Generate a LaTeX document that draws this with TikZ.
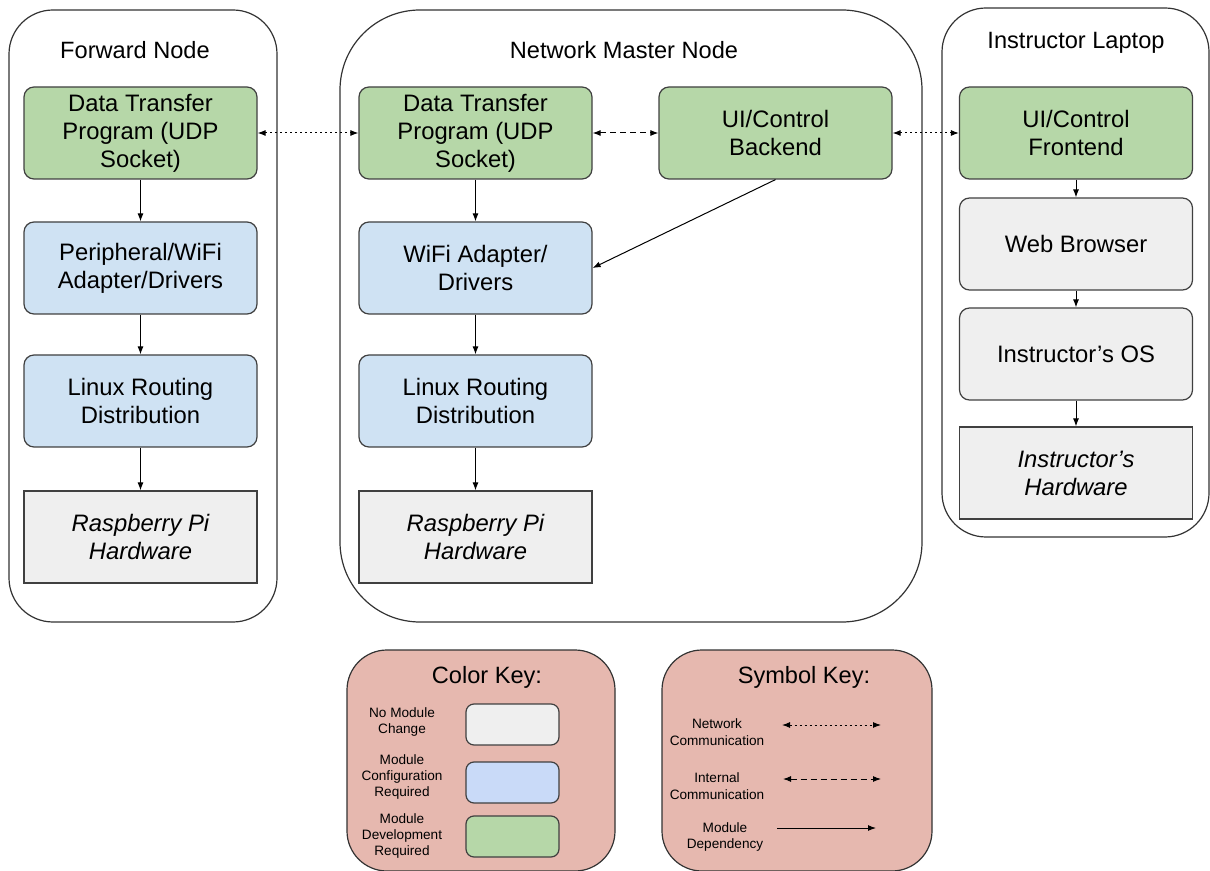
\documentclass[tikz,border=0pt]{standalone}
\usepackage{fontspec}
\setmainfont{Liberation Sans}
\usetikzlibrary{arrows.meta}
\definecolor{devgreen}{HTML}{B6D7A8}
\definecolor{cfgblue}{HTML}{CFE2F3}
\definecolor{keyblue}{HTML}{C9DAF8}
\definecolor{keepgrey}{HTML}{EFEFEF}
\definecolor{keypink}{HTML}{E6B8AF}
\tikzstyle{module} = [
  draw=black!75,
  line width=0.6pt,
  rounded corners=5pt,
  minimum width=116.5pt,
  minimum height=46pt,
  align=center,
  font=\fontsize{11.9}{14}\selectfont,
]
\tikzstyle{develop} = [module, fill=devgreen]
\tikzstyle{config} = [module, fill=cfgblue]
\tikzstyle{nochange} = [module, fill=keepgrey]
\tikzstyle{hardware} = [nochange, rounded corners=0pt, font=\fontsize{11.9}{14}\selectfont\itshape]
\tikzstyle{host} = [draw=black!80, line width=0.6pt]
\tikzstyle{title} = [font=\fontsize{11.8}{14}\selectfont]
\tikzstyle{keytext} = [align=center, font=\fontsize{6.8}{8.2}\selectfont]
\tikzstyle{swatch} = [draw=black!75, line width=0.6pt, rounded corners=4pt, minimum width=46.5pt, minimum height=20.5pt]
\tikzstyle{dep} = [-{Latex[length=4pt,width=3pt]}, line width=0.5pt]
\tikzstyle{net} = [{Latex[length=4pt,width=3pt]}-{Latex[length=4pt,width=3pt]}, line width=0.5pt, dash pattern=on 1pt off 1.5pt]
\tikzstyle{internal} = [{Latex[length=4pt,width=3pt]}-{Latex[length=4pt,width=3pt]}, line width=0.5pt, dash pattern=on 3pt off 2pt]

\begin{document}
\begin{tikzpicture}[x=0.5pt, y=-0.5pt]
  \useasboundingbox (0,0) rectangle (1210,871);

  % Hosts
  \draw[host, rounded corners=22pt] (9,10) rectangle (277,622);
  \draw[host, rounded corners=40pt] (340,10) rectangle (922,622);
  \draw[host, rounded corners=22pt] (942,8) rectangle (1209,537);

  \node[title] (fwdtitle) at (135,50) {Forward Node};
  \node[title] (msttitle) at (624,50) {Network Master Node};
  \node[title] (laptitle) at (1076,43) {Instructor Laptop};

  % Forward node stack
  \node[develop] (fwdprog) at (140.5,133) {Data Transfer\\Program (UDP\\Socket)};
  \node[config] (fwdwifi) at (140.5,268) {Peripheral/WiFi\\Adapter/Drivers};
  \node[config] (fwdlinux) at (140.5,401) {Linux Routing\\Distribution};
  \node[hardware] (fwdpi) at (140.5,537) {Raspberry Pi\\Hardware};

  % Master node stack
  \node[develop] (mstprog) at (475.5,133) {Data Transfer\\Program (UDP\\Socket)};
  \node[develop] (backend) at (775.5,133) {UI/Control\\Backend};
  \node[config] (mstwifi) at (475.5,268) {WiFi Adapter/\\Drivers};
  \node[config] (mstlinux) at (475.5,401) {Linux Routing\\Distribution};
  \node[hardware] (mstpi) at (475.5,537) {Raspberry Pi\\Hardware};

  % Laptop stack
  \node[develop] (frontend) at (1076,133) {UI/Control\\Frontend};
  \node[nochange] (browser) at (1076,244) {Web Browser};
  \node[nochange] (labos) at (1076,354) {Instructor’s OS};
  \node[hardware] (labhw) at (1076,473) {Instructor’s\\Hardware};

  % Dependencies
  \draw[dep] (fwdprog) -- (fwdwifi);
  \draw[dep] (fwdwifi) -- (fwdlinux);
  \draw[dep] (fwdlinux) -- (fwdpi);
  \draw[dep] (mstprog) -- (mstwifi);
  \draw[dep] (mstwifi) -- (mstlinux);
  \draw[dep] (mstlinux) -- (mstpi);
  \draw[dep] (backend.south) -- (mstwifi.east);
  \draw[dep] (frontend) -- (browser);
  \draw[dep] (browser) -- (labos);
  \draw[dep] (labos) -- (labhw);

  % Communication
  \draw[net] (fwdprog) -- (mstprog);
  \draw[internal] (mstprog) -- (backend);
  \draw[net] (backend) -- (frontend);

  % Color key
  \draw[host, fill=keypink, rounded corners=20pt] (347,650) rectangle (615,871);
  \node[title] (colortitle) at (487,677) {Color Key:};
  \node[keytext] (nochangelbl) at (402,722) {No Module\\Change};
  \node[keytext] (configlbl) at (402,777) {Module\\Configuration\\Required};
  \node[keytext] (developlbl) at (402,836) {Module\\Development\\Required};
  \node[swatch, fill=keepgrey] (greyswatch) at (512.5,724.5) {};
  \node[swatch, fill=keyblue] (blueswatch) at (512.5,782.5) {};
  \node[swatch, fill=devgreen] (greenswatch) at (512.5,836.5) {};

  % Symbol key
  \draw[host, fill=keypink, rounded corners=20pt] (662,650) rectangle (932,871);
  \node[title] (symboltitle) at (804,677) {Symbol Key:};
  \node[keytext] (netlbl) at (717,732) {Network\\Communication};
  \node[keytext] (intlbl) at (717,786) {Internal\\Communication};
  \node[keytext] (deplbl) at (725,837) {Module\\Dependency};
  \coordinate (neta) at (782,725);
  \coordinate (netb) at (881,725);
  \coordinate (inta) at (783,779);
  \coordinate (intb) at (881,779);
  \coordinate (depa) at (777,828);
  \coordinate (depb) at (876,828);
  \draw[net] (neta) -- (netb);
  \draw[internal] (inta) -- (intb);
  \draw[dep] (depa) -- (depb);
\end{tikzpicture}
\end{document}
